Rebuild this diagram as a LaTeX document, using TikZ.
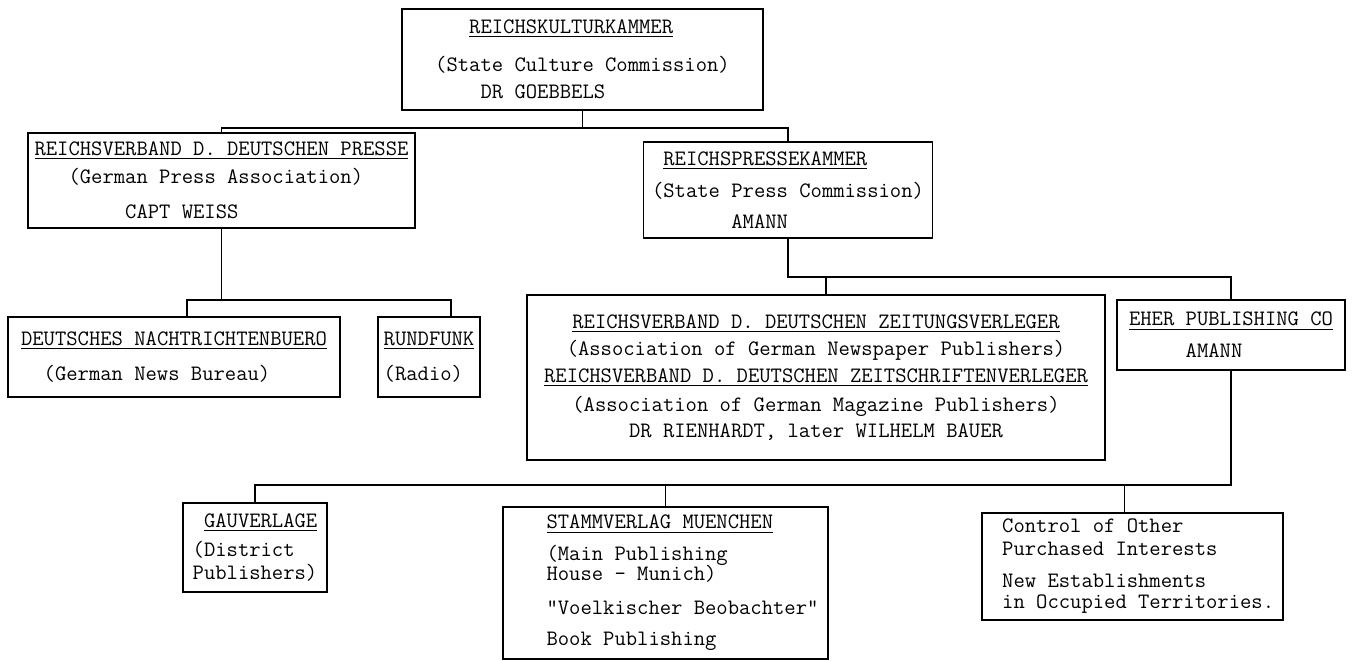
\documentclass[tikz,border=0pt]{standalone}
\usetikzlibrary{calc}
\newcommand{\esp}[1]{\hspace*{#1\fontdimen2\font}}
\begin{document}
\begin{tikzpicture}[x=0.5pt, y=-0.5pt,
    caja/.style={draw, line width=0.9pt, inner sep=0pt,
      font=\fontsize{11}{14}\selectfont\ttfamily},
    linea/.style={line width=0.9pt}]
    \useasboundingbox (0,0) rectangle (1352,660);

    % Camara de cultura (arriba)
    \node[caja, minimum width=180.5pt, minimum height=50.5pt, align=left] (kammer) at (582.5,59.5)
      {\esp{3}\underline{REICHSKULTURKAMMER}\\[5pt] (State Culture Commission)\\[-0.5pt] \esp{4}DR GOEBBELS};

    % Segundo nivel
    \node[caja, minimum width=193.5pt, minimum height=47.5pt, align=left] (presse) at (221.5,180.5)
      {\underline{REICHSVERBAND D. DEUTSCHEN PRESSE}\\ \esp{3}(German Press Association)\\[3.5pt] \esp{8}CAPT WEISS};
    \node[caja, minimum width=144.5pt, minimum height=48pt, align=left] (pressekammer) at (788,190)
      {\esp{1}\underline{REICHSPRESSEKAMMER}\\[2pt] (State Press Commission)\\[1.5pt] \esp{7}AMANN};

    % Tercer nivel
    \node[caja, minimum width=166pt, minimum height=40pt, align=left] (nachrichten) at (174,357)
      {\underline{DEUTSCHES NACHTRICHTENBUERO}\\[3.5pt] \esp{2}(German News Bureau)};
    \node[caja, minimum width=51pt, minimum height=40pt, align=left] (rundfunk) at (429,357)
      {\underline{RUNDFUNK}\\[3.5pt] (Radio)};
    \node[caja, minimum width=289pt, minimum height=82.5pt, align=center] (zeitung) at (816,377.5)
      {\underline{REICHSVERBAND D. DEUTSCHEN ZEITUNGSVERLEGER}\\[-0.5pt]
       (Association of German Newspaper Publishers)\\[-0.5pt]
       \underline{REICHSVERBAND D. DEUTSCHEN ZEITSCHRIFTENVERLEGER}\\[0.5pt]
       (Association of German Magazine Publishers)\\[-1pt]
       DR RIENHARDT, later WILHELM BAUER};
    \node[caja, minimum width=114pt, minimum height=35pt, align=left] (eher) at (1231,335)
      {\underline{EHER PUBLISHING CO}\\[2pt] \esp{5}AMANN};

    % Cuarto nivel
    \node[caja, minimum width=72pt, minimum height=44.5pt, align=left] (gauverlage) at (255,547.5)
      {\esp{1}\underline{GAUVERLAGE}\\[0.5pt] (District\\[-2.5pt] Publishers)};
    \node[caja, minimum width=162.5pt, minimum height=76pt, align=left] (stammverlag) at (665.5,583)
      {\esp{3}\underline{STAMMVERLAG MUENCHEN}\\[2pt] \esp{3}(Main Publishing\\[-4pt] \esp{3}House - Munich)\\[3pt]
       \esp{3}"Voelkischer Beobachter"\\[1.5pt] \esp{3}Book Publishing};
    \node[caja, minimum width=150.5pt, minimum height=53.5pt, align=left] (control) at (1132.5,566.5)
      {\esp{1}Control of Other\\[-2.5pt] \esp{1}Purchased Interests\\[2pt] \esp{1}New Establishments\\[-3.5pt] \esp{1}in Occupied Territories.};

    % Conectores
    \coordinate (b1) at (587,128);
    \draw[linea] (kammer.south) -- (kammer.south |- b1);
    \draw[linea] (presse.north) |- (b1) -| (pressekammer.north);

    \coordinate (b2) at (300,300);
    \draw[linea] (presse.south) -- (presse.south |- b2);
    \draw[linea] ([xshift=6.5pt]nachrichten.north) |- (b2) -| ([xshift=11pt]rundfunk.north);

    \coordinate (b3) at (1000,277);
    \draw[linea] (pressekammer.south) |- (b3) -| (eher.north);
    \draw[linea] ([xshift=5pt]zeitung.north) -- ([xshift=5pt]zeitung.north |- b3);

    \coordinate (b4) at (700,485);
    \draw[linea] (eher.south) |- (b4) -| (gauverlage.north);
    \draw[linea] (stammverlag.north) -- (stammverlag.north |- b4);
    \draw[linea] ([xshift=-4pt]control.north) -- ([xshift=-4pt]control.north |- b4);
  \end{tikzpicture}
\end{document}
